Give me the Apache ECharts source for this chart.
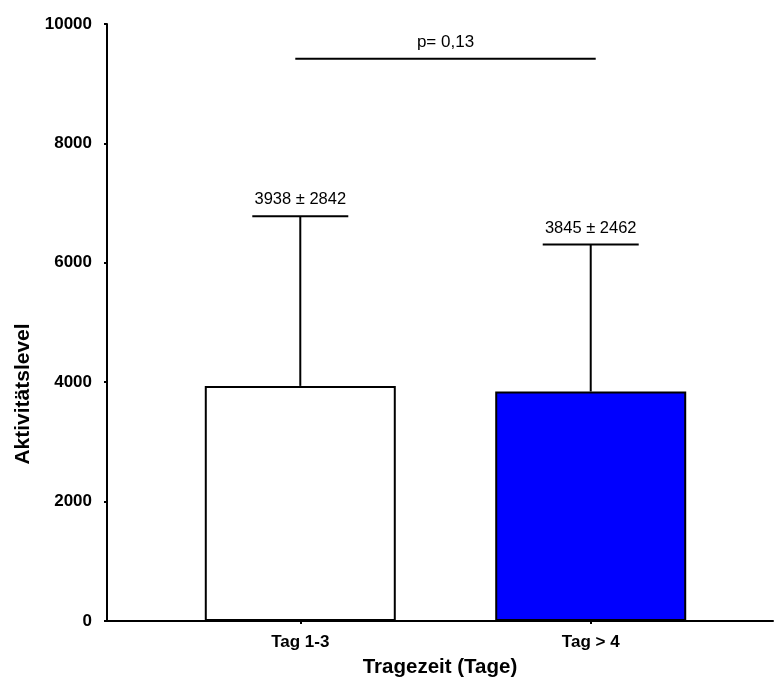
<!DOCTYPE html>
<html>
<head>
<meta charset="utf-8">
<title>Aktivitätslevel nach Tragezeit</title>
<script src="https://cdn.jsdelivr.net/npm/echarts@6/dist/echarts.min.js"></script>
<style>
  html, body { margin: 0; padding: 0; background: #ffffff; }
  #chart { width: 774px; height: 684px; }
</style>
</head>
<body>
<div id="chart"></div>
<script>
// Group labels, means and standard deviations
const categories = ['Tag 1-3', 'Tag > 4'];
const means = [3938, 3845];
const sds = [2842, 2462];
const barColors = ['#ffffff', '#0000ff'];

// Y axis scale
const yMin = 0;
const yMax = 10000;
const yStep = 2000;

// Significance bracket between the two groups
const pValueText = 'p= 0,13';
const pValueLevel = 9420;

const FONT = '"Liberation Sans", Arial, Helvetica, sans-serif';

// groups sit at x = 1, 2 on a numeric axis so spacing can be controlled
const positions = categories.map((_, i) => i + 1);

const barData = positions.map((x, i) => ({
  value: [x, means[i]],
  itemStyle: { color: barColors[i] }
}));
const errData = positions.map((x, i) => [x, means[i], sds[i]]);

const chart = echarts.init(document.getElementById('chart'), null, { renderer: 'canvas' });

chart.setOption({
  animation: false,
  backgroundColor: '#ffffff',
  grid: { left: 107, right: 1, top: 24, bottom: 63, containLabel: false },
  xAxis: {
    type: 'value',
    min: 0.3345,
    max: 2.6276,
    name: 'Tragezeit (Tage)',
    nameLocation: 'middle',
    nameGap: 36,
    nameTextStyle: { fontFamily: FONT, fontWeight: 'bold', fontSize: 20.5, color: '#000' },
    axisLine: { show: true, onZero: false, lineStyle: { color: '#000', width: 2 } },
    axisTick: { show: true, length: 3, customValues: positions, lineStyle: { color: '#000', width: 2 } },
    axisLabel: {
      customValues: positions,
      margin: 13,
      fontFamily: FONT, fontWeight: 'bold', fontSize: 17, color: '#000',
      formatter: v => categories[Math.round(v) - 1] || ''
    },
    splitLine: { show: false }
  },
  yAxis: {
    type: 'value',
    min: yMin,
    max: yMax,
    interval: yStep,
    axisLine: { show: true, lineStyle: { color: '#000', width: 2 } },
    axisTick: { show: true, length: 3, lineStyle: { color: '#000', width: 2 } },
    axisLabel: {
      margin: 15, fontFamily: FONT, fontWeight: 'bold', fontSize: 17, color: '#000',
      formatter: v => String(v)
    },
    splitLine: { show: false }
  },
  graphic: [{
    type: 'text',
    x: 23,
    y: 394,
    rotation: Math.PI / 2,
    style: {
      text: 'Aktivitätslevel',
      fontFamily: FONT, fontWeight: 'bold', fontSize: 21,
      fill: '#000', textAlign: 'center', textVerticalAlign: 'middle'
    }
  }],
  series: [
    {
      type: 'bar',
      data: barData,
      barWidth: 191,
      itemStyle: { borderColor: '#000', borderWidth: 2 },
      z: 2
    },
    {
      // mean + SD whiskers with value labels
      type: 'custom',
      data: errData,
      z: 3,
      renderItem: (params, api) => {
        const x = api.value(0), m = api.value(1), s = api.value(2);
        const base = api.coord([x, m]);
        const top = api.coord([x, m + s]);
        const half = 48;
        return {
          type: 'group',
          children: [
            { type: 'line', shape: { x1: base[0], y1: base[1], x2: top[0], y2: top[1] },
              style: { stroke: '#000', lineWidth: 2 } },
            { type: 'line', shape: { x1: top[0] - half, y1: top[1], x2: top[0] + half, y2: top[1] },
              style: { stroke: '#000', lineWidth: 2 } },
            { type: 'text', x: top[0], y: top[1] - 8,
              style: { text: m + ' ± ' + s, fontFamily: FONT, fontSize: 16.5, fill: '#000',
                       textAlign: 'center', textVerticalAlign: 'bottom' } }
          ]
        };
      }
    },
    {
      // significance bracket
      type: 'custom',
      data: [[positions[0], positions[1], pValueLevel]],
      z: 3,
      renderItem: (params, api) => {
        const a = api.coord([api.value(0), api.value(2)]);
        const b = api.coord([api.value(1), api.value(2)]);
        const over = 5;
        return {
          type: 'group',
          children: [
            { type: 'line', shape: { x1: a[0] - over, y1: a[1], x2: b[0] + over, y2: b[1] },
              style: { stroke: '#000', lineWidth: 2 } },
            { type: 'text', x: (a[0] + b[0]) / 2, y: a[1] - 8,
              style: { text: pValueText, fontFamily: FONT, fontSize: 17, fill: '#000',
                       textAlign: 'center', textVerticalAlign: 'bottom' } }
          ]
        };
      }
    }
  ]
});
</script>
</body>
</html>
